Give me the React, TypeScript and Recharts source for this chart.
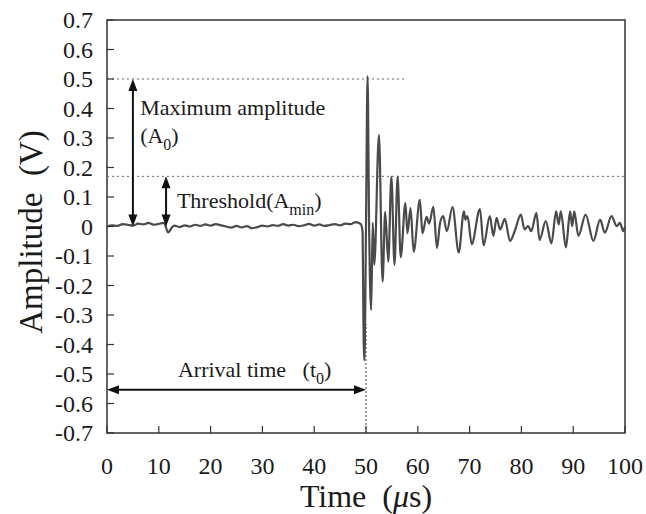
import React from 'react';
import { LineChart, Line, XAxis, YAxis, ReferenceLine, ReferenceArea, ReferenceDot } from 'recharts';

// pre-trigger noise, 0 - 49 us
const preTime = [0, 1, 2, 3, 4, 5, 6, 7, 8, 9, 10, 11, 11.8, 12.5, 13, 14, 15, 16, 17, 18, 19, 20, 21, 22, 23, 24, 25, 26, 27, 28, 29, 30, 31, 32, 33, 34, 35, 36, 37, 38, 39, 40, 41, 42, 43, 44, 45, 46, 47, 48, 49];
const preAmp = [0.0, 0.004, 0.002, 0.008, 0.006, 0.003, 0.01, 0.007, 0.012, 0.006, 0.009, 0.012, -0.02, -0.004, 0.003, -0.002, 0.004, 0.0, 0.006, 0.002, 0.007, 0.003, 0.008, 0.004, 0.0, -0.004, 0.002, -0.003, 0.001, -0.006, -0.002, 0.003, 0.0, 0.005, 0.002, 0.008, 0.003, 0.006, 0.001, 0.004, 0.009, 0.003, 0.007, 0.002, 0.005, 0.008, 0.004, 0.01, 0.008, 0.015, 0.008];

// burst after arrival
const burstTime = [49.35, 49.5, 49.7, 50.0, 50.3, 50.6, 51.0, 51.3, 51.6, 52.5, 53.2, 53.7, 54.3, 54.9, 55.5, 56.1, 56.7, 57.6, 58.0, 58.6, 59.2, 60.4, 60.9, 61.7, 62.2, 63.0, 63.7, 64.3];
const burstAmp = [-0.02, -0.317, -0.453, 0.0, 0.51, 0.0, -0.283, 0.012, -0.13, 0.31, -0.187, 0.05, -0.119, 0.169, -0.13, 0.169, -0.104, 0.079, -0.023, 0.062, -0.085, 0.09, -0.023, 0.033, 0.01, 0.067, -0.073, 0.012];

// decaying coda
const codaTime = [64.9, 65.6, 66.7, 67.9, 68.9, 69.2, 69.6, 70.4, 72.0, 72.7, 73.9, 74.6, 75.2, 75.9, 76.8, 77.8, 78.7, 79.9, 80.6, 81.3, 81.9, 82.9, 83.5, 84.7, 85.8, 86.7, 87.2, 87.6, 88.6, 89.4, 89.8, 90.2, 91.0, 92.4, 93.9, 95.2, 96.1, 97.4, 98.4, 99.0, 99.7, 100];
const codaAmp = [0.035, -0.016, 0.066, -0.088, 0.051, 0.023, 0.035, -0.06, 0.059, -0.064, 0.035, -0.032, 0.029, -0.01, 0.026, -0.049, -0.016, 0.04, -0.01, 0.001, -0.016, 0.046, -0.046, 0.018, -0.057, 0.051, 0.007, 0.051, -0.071, 0.051, 0.001, 0.051, -0.032, 0.04, -0.049, 0.023, -0.021, 0.035, 0.001, 0.012, -0.016, 0.0];

const xTicks = [0, 10, 20, 30, 40, 50, 60, 70, 80, 90, 100];
const yTicks = [0.7, 0.6, 0.5, 0.4, 0.3, 0.2, 0.1, 0, -0.1, -0.2, -0.3, -0.4, -0.5, -0.6, -0.7];

// annotation levels
const peakLevel = 0.5;
const peakGuideEnd = 57.7;
const thresholdLevel = 0.17;
const arrivalTime = 50;
const arrivalArrowLevel = -0.553;
const maxArrowTime = 5;
const thresholdArrowTime = 11.4;

const data = [
  ...preTime.map((t, i) => ({ t, v: preAmp[i] })),
  ...burstTime.map((t, i) => ({ t, v: burstAmp[i] })),
  ...codaTime.map((t, i) => ({ t, v: codaAmp[i] })),
];

const FONT = '"Liberation Serif", "Times New Roman", serif';
const INK = '#1a1a1a';

const XTick = ({ x, y, payload }: any) => (
  <g>
    <line x1={x} x2={x} y1={y} y2={y - 7} stroke="#333" strokeWidth={1.2} />
    <text x={x} y={y + 41} textAnchor="middle" fontSize={24} fontFamily={FONT} fill={INK}>
      {payload.value}
    </text>
  </g>
);

const YTick = ({ x, y, payload }: any) => (
  <g>
    <line x1={x} x2={x + 7} y1={y} y2={y} stroke="#333" strokeWidth={1.2} />
    <text x={x - 14} y={y + 8} textAnchor="end" fontSize={24} fontFamily={FONT} fill={INK}>
      {payload.value === 0 ? '0' : payload.value.toFixed(1)}
    </text>
  </g>
);

const arrowHead = (tx: number, ty: number, ux: number, uy: number) => {
  const len = 12;
  const hw = 4.5;
  const bx = tx - ux * len;
  const by = ty - uy * len;
  return `${tx},${ty} ${bx - uy * hw},${by + ux * hw} ${bx + uy * hw},${by - ux * hw}`;
};

const DoubleArrow = (p: any) => {
  const { x1, y1, x2, y2 } = p;
  const d = Math.hypot(x2 - x1, y2 - y1) || 1;
  const ux = (x2 - x1) / d;
  const uy = (y2 - y1) / d;
  return (
    <g>
      <line x1={x1 + ux * 6} y1={y1 + uy * 6} x2={x2 - ux * 6} y2={y2 - uy * 6} stroke="#111" strokeWidth={2} />
      <polygon points={arrowHead(x2, y2, ux, uy)} fill="#111" />
      <polygon points={arrowHead(x1, y1, -ux, -uy)} fill="#111" />
    </g>
  );
};

const note = (main: string, sub?: string, tail?: string) => (props: any) => {
  const { x, y } = props.viewBox;
  return (
    <text x={x} y={y} fontSize={22} fontFamily={FONT} fill={INK}>
      {main}
      {sub && (
        <tspan fontSize={16} dy={7}>
          {sub}
        </tspan>
      )}
      {tail && <tspan dy={sub ? -7 : 0}>{tail}</tspan>}
    </text>
  );
};

export default function App() {
  return (
    <div style={{ position: 'absolute', left: 0, top: 0, width: 646, height: 514, background: '#fff' }}>
      <LineChart width={646} height={514} data={data} margin={{ top: 20, right: 21, bottom: 0, left: 0 }}>
        <XAxis
          type="number"
          dataKey="t"
          domain={[0, 100]}
          ticks={xTicks}
          height={81}
          axisLine={false}
          tickLine={false}
          tickSize={0}
          tickMargin={0}
          tick={XTick}
          interval={0}
          label={{
            content: ({ viewBox }: any) => (
              <text x={viewBox.x + viewBox.width / 2} y={507} textAnchor="middle" fontSize={32} fontFamily={FONT} fill={INK}>
                Time{'\u00a0\u00a0'}(<tspan fontStyle="italic">μ</tspan>s)
              </text>
            ),
          }}
        />
        <YAxis
          type="number"
          domain={[-0.7, 0.7]}
          ticks={yTicks}
          width={107}
          axisLine={false}
          tickLine={false}
          tickSize={0}
          tickMargin={0}
          tick={YTick}
          interval={0}
          allowDataOverflow
          label={{
            content: () => (
              <text x={42} y={232} transform="rotate(-90, 42, 232)" textAnchor="middle" fontSize={33} fontFamily={FONT} fill={INK}>
                Amplitude{'\u00a0\u00a0'}(V)
              </text>
            ),
          }}
        />
        <ReferenceLine segment={[{ x: 0, y: peakLevel }, { x: peakGuideEnd, y: peakLevel }]} stroke="#666" strokeDasharray="2 3" />
        <ReferenceLine y={thresholdLevel} stroke="#666" strokeDasharray="2 3" />
        <ReferenceLine segment={[{ x: arrivalTime, y: -0.7 }, { x: arrivalTime, y: -0.33 }]} stroke="#444" strokeDasharray="2 2" />
        <Line type="monotone" dataKey="v" stroke="#4a4a4a" strokeWidth={2.2} dot={false} isAnimationActive={false} />
        <ReferenceLine segment={[{ x: maxArrowTime, y: peakLevel }, { x: maxArrowTime, y: 0 }]} shape={DoubleArrow} />
        <ReferenceLine segment={[{ x: thresholdArrowTime, y: thresholdLevel }, { x: thresholdArrowTime, y: 0 }]} shape={DoubleArrow} />
        <ReferenceLine segment={[{ x: 0, y: arrivalArrowLevel }, { x: arrivalTime, y: arrivalArrowLevel }]} shape={DoubleArrow} />
        <ReferenceDot x={6.4} y={0.378} r={0} fill="none" stroke="none" label={note('Maximum amplitude')} />
        <ReferenceDot x={6.4} y={0.283} r={0} fill="none" stroke="none" label={note('(A', '0', ')')} />
        <ReferenceDot x={13.5} y={0.063} r={0} fill="none" stroke="none" label={note('Threshold(A', 'min', ')')} />
        <ReferenceDot x={13.7} y={-0.51} r={0} fill="none" stroke="none" label={note('Arrival time\u00a0\u00a0\u00a0(t', '0', ')')} />
        <ReferenceArea x1={0} x2={100} y1={-0.7} y2={0.7} fill="none" stroke="#333" strokeWidth={1.5} ifOverflow="visible" />
      </LineChart>
    </div>
  );
}
